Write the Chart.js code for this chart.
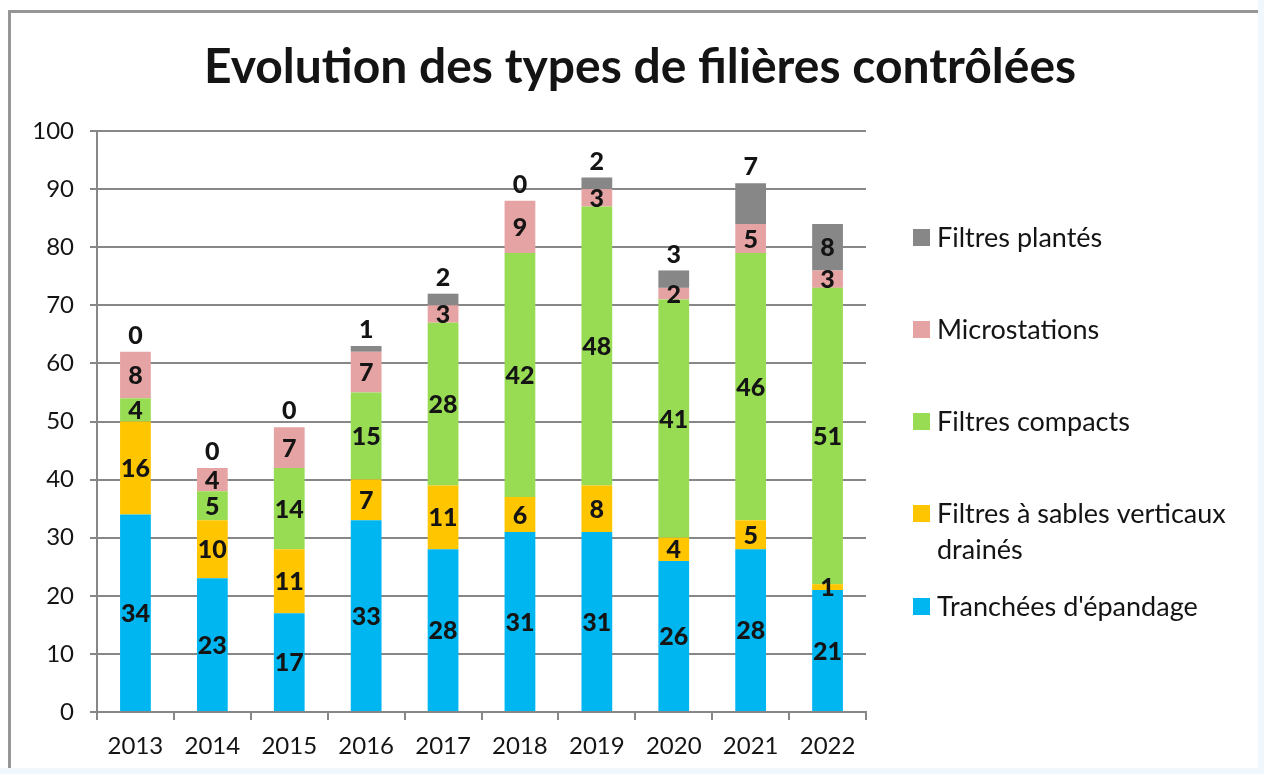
<!DOCTYPE html>
<html>
<head>
<meta charset="utf-8">
<script src="https://cdn.jsdelivr.net/npm/chart.js@4"></script>
<style>
    html, body { margin: 0; padding: 0; background: #ffffff; }
    #wrap { width: 1264px; height: 774px; position: relative; }
</style>
</head>
<body>
<div id="wrap"><canvas id="filieres_chart" width="1264" height="774"></canvas></div>
<script>
// Data
var years = ['2013', '2014', '2015', '2016', '2017', '2018', '2019', '2020', '2021', '2022'];
var tranchees = [34, 23, 17, 33, 28, 31, 31, 26, 28, 21];
var sablesVerticaux = [16, 10, 11, 7, 11, 6, 8, 4, 5, 1];
var filtresCompacts = [4, 5, 14, 15, 28, 42, 48, 41, 46, 51];
var microstations = [8, 4, 7, 7, 3, 9, 3, 2, 5, 3];
var filtresPlantes = [0, 0, 0, 1, 2, 0, 2, 3, 7, 8];
var yTicks = [0, 10, 20, 30, 40, 50, 60, 70, 80, 90, 100];
var chartTitle = 'Evolution des types de filières contrôlées';

var chartColors = {
    blue: 'rgb(0, 182, 240)',
    yellow: 'rgb(255, 198, 0)',
    green: 'rgb(152, 220, 84)',
    pink: 'rgb(230, 163, 163)',
    grey: 'rgb(135, 135, 135)',
    grid: 'rgb(135, 135, 135)',
    text: 'rgb(20, 20, 20)'
};

// Frame around the chart (grey top/left edge, faint blue strip on right/bottom) + title across the full width
var framePlugin = {
    id: 'frame',
    beforeDraw: function (chart) {
        var ctx = chart.ctx;
        ctx.save();
        ctx.fillStyle = '#ffffff';
        ctx.fillRect(0, 0, 1264, 774);
        ctx.fillStyle = 'rgb(240, 247, 253)';
        ctx.fillRect(1258, 0, 6, 774);
        ctx.fillRect(0, 768, 1264, 6);
        ctx.fillStyle = 'rgb(150, 150, 150)';
        ctx.fillRect(8, 10, 1250, 3);
        ctx.fillRect(8, 10, 3, 758);

        ctx.font = 'bold 48px Lato';
        ctx.fillStyle = chartColors.text;
        ctx.textAlign = 'center';
        ctx.textBaseline = 'alphabetic';
        ctx.fillText(chartTitle, 640, 83);
        ctx.restore();
    }
};

// Value labels inside the segments, "Filtres plantés" mostly above the bar
var valueLabels = {
    id: 'valueLabels',
    afterDatasetsDraw: function (chart) {
        var ctx = chart.ctx;
        ctx.save();
        ctx.font = '900 25px Lato';
        ctx.fillStyle = chartColors.text;
        ctx.textAlign = 'center';
        ctx.textBaseline = 'middle';
        var last = chart.data.datasets.length - 1;
        chart.data.datasets.forEach(function (ds, di) {
            var meta = chart.getDatasetMeta(di);
            meta.data.forEach(function (bar, i) {
                var v = ds.data[i];
                var y = (bar.y + bar.base) / 2;
                if (di === last && v < 8) {
                    y = bar.y - 17;
                }
                ctx.fillText(String(v), bar.x, y + 1);
            });
        });
        ctx.restore();
    }
};

// Legend on the right, reversed like the original
var sideLegend = {
    id: 'sideLegend',
    afterDraw: function (chart) {
        var ctx = chart.ctx;
        var rows = [237, 329, 421, 513, 606];
        var items = chart.data.datasets.slice().reverse();
        ctx.save();
        ctx.font = '27px Lato';
        ctx.textBaseline = 'middle';
        ctx.textAlign = 'left';
        items.forEach(function (ds, k) {
            ctx.fillStyle = ds.backgroundColor;
            ctx.fillRect(913, rows[k] - 8, 17, 17);
            ctx.fillStyle = chartColors.text;
            var lines = Array.isArray(ds.legendText) ? ds.legendText : [ds.label];
            lines.forEach(function (line, j) {
                ctx.fillText(line, 937, rows[k] + 1 + j * 36);
            });
        });
        ctx.restore();
    }
};

var ctx = document.getElementById('filieres_chart').getContext('2d');
new Chart(ctx, {
    type: 'bar',
    data: {
        labels: years,
        datasets: [
            { label: "Tranchées d'épandage", data: tranchees, backgroundColor: chartColors.blue },
            { label: 'Filtres à sables verticaux drainés', legendText: ['Filtres à sables verticaux', 'drainés'],
                data: sablesVerticaux, backgroundColor: chartColors.yellow },
            { label: 'Filtres compacts', data: filtresCompacts, backgroundColor: chartColors.green },
            { label: 'Microstations', data: microstations, backgroundColor: chartColors.pink },
            { label: 'Filtres plantés', data: filtresPlantes, backgroundColor: chartColors.grey }
        ]
    },
    options: {
        responsive: false,
        animation: false,
        layout: { padding: { top: 131, left: 8, right: 398, bottom: 12 } },
        datasets: { bar: { barPercentage: 0.4, categoryPercentage: 1.0 } },
        plugins: {
            legend: { display: false },
            tooltip: { enabled: false },
            title: { display: false }
        },
        scales: {
            x: {
                stacked: true,
                grid: { offset: true, drawOnChartArea: false, tickLength: 8, color: chartColors.grid, lineWidth: 2 },
                border: { color: chartColors.grid, width: 2 },
                ticks: { color: chartColors.text, font: { family: 'Lato', size: 24 }, padding: 12, maxRotation: 0 },
                afterFit: function (scale) { scale.height = 50; }
            },
            y: {
                stacked: true,
                min: 0,
                max: 100,
                afterBuildTicks: function (scale) {
                    scale.ticks = yTicks.map(function (v) { return { value: v }; });
                },
                grid: { color: chartColors.grid, lineWidth: 2, tickLength: 7 },
                border: { color: chartColors.grid, width: 2 },
                ticks: { color: chartColors.text, font: { family: 'Lato', size: 24 }, padding: 16 },
                afterFit: function (scale) { scale.width = 89; }
            }
        }
    },
    plugins: [framePlugin, valueLabels, sideLegend]
});
</script>
</body>
</html>
